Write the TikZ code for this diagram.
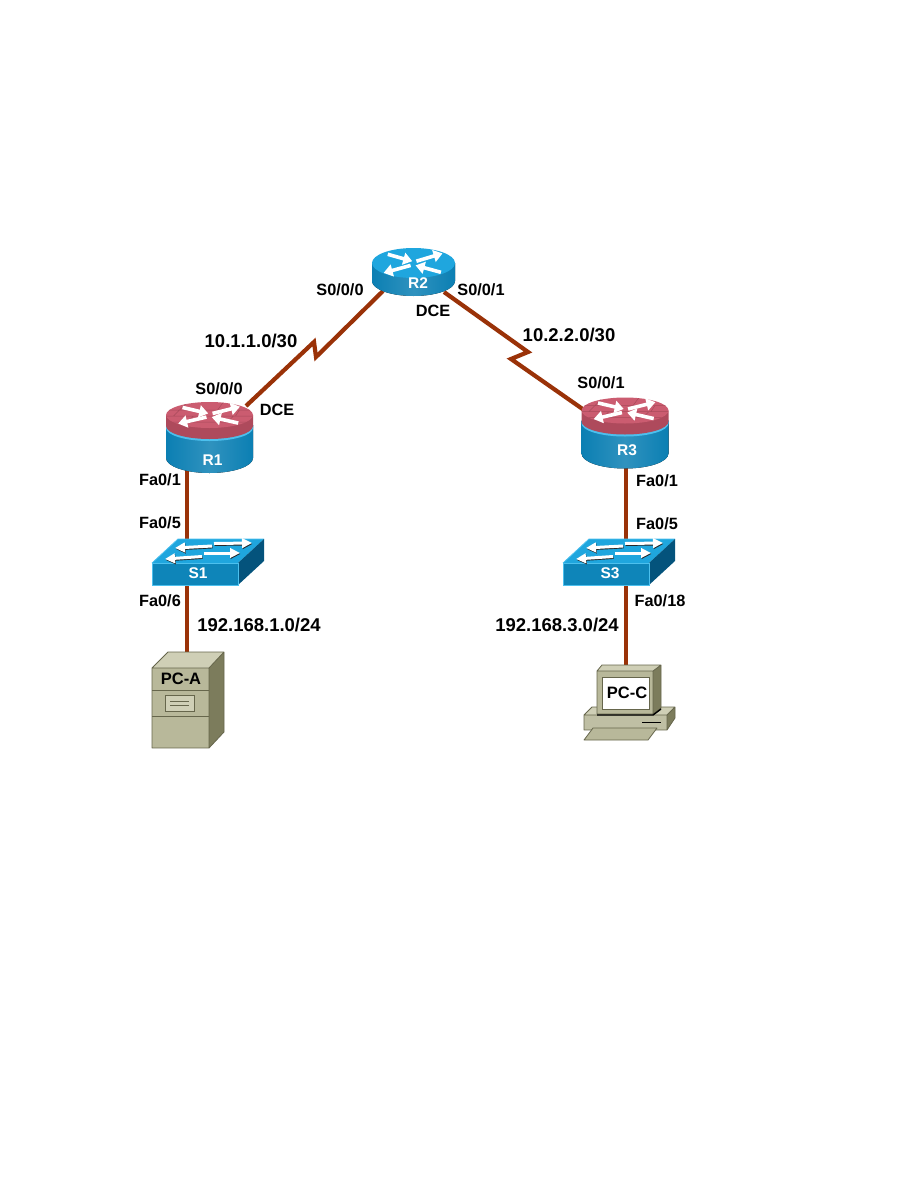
\documentclass[tikz,border=0pt]{standalone}
\usepackage{fontspec}
\setmainfont{Liberation Sans}
\usetikzlibrary{arrows.meta}
\definecolor{link}{HTML}{9A3208}
\definecolor{bluetop}{HTML}{1FA6DE}
\definecolor{bluelight}{HTML}{4CC0EE}
\definecolor{blueside}{HTML}{0B7FB3}
\definecolor{bluedark}{HTML}{0A6A98}
\definecolor{bluedeep}{HTML}{04537C}
\definecolor{redtop}{HTML}{CB5C70}
\definecolor{redside}{HTML}{AE4A5C}
\definecolor{redline}{HTML}{A84A5A}
\definecolor{pcface}{HTML}{B8B89A}
\definecolor{pctop}{HTML}{CFCFB6}
\definecolor{pcside}{HTML}{7C7C5C}
\definecolor{pcline}{HTML}{66664C}
\tikzset{
  linkline/.style={draw=link,line width=4.2pt,line join=miter},
  portlabel/.style={font=\fontsize{16.3}{18}\bfseries,inner sep=0pt,text=black},
  netlabel/.style={font=\fontsize{18.5}{20}\bfseries,inner sep=0pt,text=black},
  devlabel/.style={font=\fontsize{15.5}{18}\bfseries,inner sep=0pt,text=white},
  pclabel/.style={font=\fontsize{16.5}{20}\bfseries,inner sep=0pt,text=black},
  flowarrow/.style={draw=white,line width=3.6pt,-{Triangle[length=9pt,width=12pt,fill=white]}},
  swarrow/.style={draw=white,line width=3pt,-{Triangle[length=10pt,width=9.5pt,fill=white]}},
  swshadow/.style={draw=black!85,line width=3pt,-{Triangle[length=10pt,width=9.5pt,fill=black!85]}},
  pcedge/.style={draw=pcline,line width=0.8pt,line join=round},
}
\newcommand{\routerarrows}[2]{%
  \begin{scope}[shift={#1},x=#2]
    \draw[flowarrow] (-.62,.58) -- (-.03,.12);
    \draw[flowarrow] (.66,-.62) -- (.05,-.16);
    \draw[flowarrow] (.07,.12) -- (.7,.64);
    \draw[flowarrow] (-.07,-.16) -- (-.72,-.66);
  \end{scope}}
\newcommand{\redrouter}[3]{% cx, dy, name
  \begin{scope}[shift={(#1,#2)}]
    \fill[left color=blueside,right color=blueside,middle color=blueside!85!white]
      (-43.5,425) -- (-43.5,458) arc[start angle=180,end angle=0,x radius=43.5,y radius=15] -- (43.5,425) -- cycle;
    \fill[bluelight] (-43.5,425) -- (-43.5,428) arc[start angle=180,end angle=0,x radius=43.5,y radius=13] -- (43.5,425) -- cycle;
    \fill[redside] (-43.5,415) -- (-43.5,426) arc[start angle=180,end angle=0,x radius=43.5,y radius=13] -- (43.5,415) -- cycle;
    \fill[redtop] (0,415) ellipse[x radius=43.5,y radius=13];
    \begin{scope}
      \clip (0,415) ellipse[x radius=43.5,y radius=13];
      \draw[redline,line width=.5pt] (-43,410)--(43,410) (-43,416)--(43,416) (-43,422)--(43,422)
        (-22,402)--(-30,410) (14,402)--(8,410) (-16,416)--(-22,422) (24,416)--(18,422) (-30,410)--(-36,416) (30,410)--(26,416);
    \end{scope}
  \end{scope}}
\newcommand{\swbody}[1]{% front-left x
  \begin{scope}[shift={(#1,0)}]
    \fill[bluetop] (0,563) -- (26,539) -- (112,539) -- (86,563) -- cycle;
    \draw[bluelight,line width=.8pt] (0,563) -- (26,539) -- (112,539);
    \fill[bluedeep] (86,563) -- (112,539) -- (112,561) -- (86,585) -- cycle;
    \fill[blueside!85!bluetop] (0,563) rectangle (86,585);
    \draw[bluelight,line width=.8pt] (0,563) rectangle (86,585);
    \foreach \a/\b/\c/\d in {60/546/23/548,62/543.5/100/543,50/556.5/13/559,52/553/88/553}{
      \draw[swshadow] (\a+.5,\b+.9) -- (\c+.5,\d+.9);
      \draw[swarrow] (\a,\b) -- (\c,\d);
    }
  \end{scope}}
\begin{document}
\begin{tikzpicture}[x=1pt,y=-1pt]
\useasboundingbox[fill=white] (0,0) rectangle (918,1188);
% connector end points
\coordinate (R2sw) at (383,291);
\coordinate (zigA) at (316,357);
\coordinate (zigB) at (314,342);
\coordinate (R1ne) at (246,406);
\coordinate (R2se) at (444,292);
\coordinate (zigC) at (528,352);
\coordinate (zigD) at (511,359);
\coordinate (R3nw) at (584,410);
\coordinate (R1s) at (187,470);
\coordinate (S1n) at (187,545);
\coordinate (S1s) at (187,580);
\coordinate (PAn) at (187,655);
\coordinate (R3s) at (626,465);
\coordinate (S3n) at (626,545);
\coordinate (S3s) at (626,580);
\coordinate (PCn) at (626,668);
% connectors
\draw[linkline] (R2sw) -- (zigA) -- (zigB) -- (R1ne);
\draw[linkline] (R2se) -- (zigC) -- (zigD) -- (R3nw);
\draw[linkline] (R1s) -- (S1n);
\draw[linkline] (S1s) -- (PAn);
\draw[linkline] (R3s) -- (S3n);
\draw[linkline] (S3s) -- (PCn);
% R1, R3
\redrouter{209.5}{0}{R1}
\routerarrows{(209.5,415)}{43.5pt,y=13pt}
\redrouter{625}{-4.5}{R3}
\routerarrows{(625,410.5)}{43.5pt,y=13pt}
% R2
\fill[left color=blueside,right color=blueside,middle color=blueside!85!white]
  (372,263) -- (372,281) arc[start angle=180,end angle=0,x radius=41.5,y radius=15] -- (455,263) -- cycle;
\fill[bluetop] (413.5,263) ellipse[x radius=41.5,y radius=15];
\routerarrows{(413.5,263)}{41.5pt,y=15pt}
% switches
\swbody{152}
\swbody{563}
% PC-A
\fill[pctop] (152,668) -- (168,652) -- (224,652) -- (209,668) -- cycle;
\fill[pcside] (209,668) -- (224,652) -- (224,732) -- (209,748) -- cycle;
\fill[pcface] (152,668) rectangle (209,748);
\draw[pcedge] (152,668) -- (168,652) -- (224,652) -- (224,732) -- (209,748) -- (152,748) -- cycle
  (152,668) -- (209,668) -- (224,652) (209,668) -- (209,748);
\draw[pcline,line width=.8pt] (152,690) -- (209,690) (152,716) -- (209,716);
\draw[pcline,line width=.8pt,fill=pctop] (165,695) rectangle (194,711);
\draw[pcline,line width=.6pt] (170,701) -- (189,701) (170,705) -- (189,705);
% PC-C
\fill[pctop] (592,707) -- (584,715) -- (667,715) -- (675,707) -- cycle;
\fill[pcside] (667,715) -- (675,707) -- (675,718) -- (667,730) -- cycle;
\fill[pcface!90!white] (584,715) rectangle (667,730);
\draw[pcedge] (592,707) -- (584,715) -- (584,730) -- (667,730) -- (675,718) -- (675,707) -- cycle
  (584,715) -- (667,715) -- (675,707) (667,715) -- (667,730);
\draw[black,line width=1pt] (642,722) -- (661,722);
\draw[pcedge,fill=pcface] (593,728) -- (657,728) -- (648,740) -- (584,740) -- cycle;
\fill[pctop] (597,671) -- (602,665) -- (661,665) -- (653,671) -- cycle;
\fill[pcside] (653,671) -- (661,665) -- (661,708) -- (653,714) -- cycle;
\fill[pcface] (597,671) rectangle (653,714);
\draw[pcedge] (597,671) -- (602,665) -- (661,665) -- (661,708) -- (653,714) -- (597,714) -- cycle
  (597,671) -- (653,671) -- (661,665) (653,671) -- (653,714);
\draw[black,line width=1.4pt] (597,715) -- (653,715) -- (661,709);
\fill[white] (602,677) rectangle (649,709);
\draw[pcline,line width=.6pt] (602,677) rectangle (649,709);
% device names
\node[devlabel] (R1) at (212.5,460) {R1};
\node[devlabel] (R2) at (418,283) {R2};
\node[devlabel] (R3) at (627,450) {R3};
\node[devlabel] (S1) at (198,573) {S1};
\node[devlabel] (S3) at (610,573) {S3};
\node[pclabel] (PCA) at (181,679) {PC-A};
\node[pclabel] (PCC) at (627,693) {PC-C};
% interface labels
\node[portlabel] (l1) at (340,290) {S0/0/0};
\node[portlabel] (l2) at (481,290) {S0/0/1};
\node[portlabel] (l3) at (433,311) {DCE};
\node[portlabel] (l4) at (219,389) {S0/0/0};
\node[portlabel] (l5) at (277,410) {DCE};
\node[portlabel] (l6) at (601,383) {S0/0/1};
\node[portlabel] (l7) at (160,480) {Fa0/1};
\node[portlabel] (l8) at (160,523) {Fa0/5};
\node[portlabel] (l9) at (160,601) {Fa0/6};
\node[portlabel] (l10) at (657,481) {Fa0/1};
\node[portlabel] (l11) at (657,524) {Fa0/5};
\node[portlabel] (l12) at (660,601) {Fa0/18};
% network labels
\node[netlabel] (n1) at (251,341) {10.1.1.0/30};
\node[netlabel] (n2) at (569,335) {10.2.2.0/30};
\node[netlabel] (n3) at (259,625) {192.168.1.0/24};
\node[netlabel] (n4) at (557,625) {192.168.3.0/24};
\end{tikzpicture}
\end{document}
